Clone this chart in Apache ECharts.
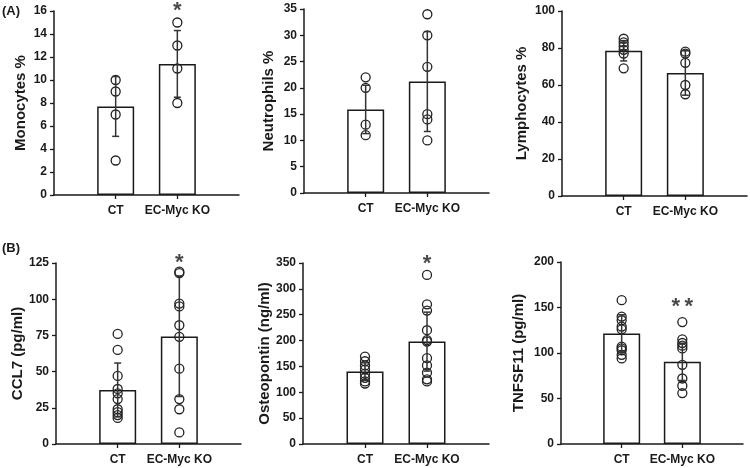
<!DOCTYPE html>
<html><head><meta charset="utf-8">
<script src="https://cdn.jsdelivr.net/npm/echarts@6/dist/echarts.min.js"></script>
<style>html,body{margin:0;padding:0;background:#fff}#c{width:750px;height:468px}</style>
</head><body><div id="c"></div>
<script>
// ---------- data ----------
const categories = ['CT', 'EC-Myc KO'];
const yTitles = ['Monocytes %', 'Neutrophils %', 'Lymphocytes %', 'CCL7 (pg/ml)', 'Osteopontin (ng/ml)', 'TNFSF11 (pg/ml)'];
const yMax = [16, 35, 100, 125, 350, 200];
const yInterval = [2, 5, 20, 25, 50, 50];

// individual points [CT, KO]
const monocytesCT = [10, 9, 7, 3];
const monocytesKO = [15, 13, 11, 8];
const neutrophilsCT = [22, 20, 13, 11];
const neutrophilsKO = [34, 30, 24, 15, 14, 10];
const lymphocytesCT = [85, 83, 81, 79, 77, 69];
const lymphocytesKO = [78, 77, 72, 60, 55];
const ccl7CT = [76, 65, 47, 38, 35, 31, 24, 22, 20, 18];
const ccl7KO = [119, 118, 97, 95, 82, 74, 52, 31, 24, 8];
const osteopontinCT = [169, 160, 152, 144, 136, 128, 121, 117];
const osteopontinKO = [327, 270, 258, 220, 201, 198, 166, 152, 138, 125, 121];
const tnfsf11CT = [158, 140, 136, 129, 126, 107, 105, 103, 98, 94];
const tnfsf11KO = [134, 115, 111, 108, 105, 87, 72, 64, 56];

// bar heights (mean) and error (SD) [CT, KO]
const monocytesMean = [7.7, 11.4], monocytesSD = [2.6, 2.9];
const neutrophilsMean = [15.9, 21.2], neutrophilsSD = [4.6, 9.5];
const lymphocytesMean = [78.5, 66.5], lymphocytesSD = [5.5, 12];
const ccl7Mean = [37.3, 74.3], ccl7SD = [18.6, 41.5];
const osteopontinMean = [140, 198], osteopontinSD = [17, 57];
const tnfsf11Mean = [121.5, 90.3], tnfsf11SD = [20.5, 20.5];

// significance marks (on KO)
const starText = ['*', '', '', '*', '*', '*\u2009*'];
const starValue = [16.4, null, null, 128.5, 357.8, 156];

const panelPoints = [[monocytesCT, monocytesKO], [neutrophilsCT, neutrophilsKO], [lymphocytesCT, lymphocytesKO],
  [ccl7CT, ccl7KO], [osteopontinCT, osteopontinKO], [tnfsf11CT, tnfsf11KO]];
const panelMean = [monocytesMean, neutrophilsMean, lymphocytesMean, ccl7Mean, osteopontinMean, tnfsf11Mean];
const panelSD = [monocytesSD, neutrophilsSD, lymphocytesSD, ccl7SD, osteopontinSD, tnfsf11SD];

// ---------- layout ----------
const gridBoxes = [
  {left: 54, top: 11, width: 185, height: 184},
  {left: 304, top: 9, width: 185, height: 184},
  {left: 562, top: 11, width: 185, height: 185},
  {left: 56, top: 263, width: 185, height: 181},
  {left: 303, top: 263, width: 186, height: 181},
  {left: 561, top: 262, width: 182, height: 182}
];
const nameGaps = [26, 28, 33, 30, 30, 35];

const FONT = '"Liberation Sans", Arial, sans-serif';
const INK = '#1a1a1a';

const xCats = [''].concat(categories, ['']);

function errRender(params, api) {
  const x = api.value(0), lo = api.value(1), hi = api.value(2);
  const pLo = api.coord([x, lo]), pHi = api.coord([x, hi]);
  const cap = 3.5;
  const style = {stroke: '#333', lineWidth: 1.5};
  return {type: 'group', children: [
    {type: 'line', shape: {x1: pHi[0], y1: pHi[1], x2: pLo[0], y2: pLo[1]}, style: style},
    {type: 'line', shape: {x1: pHi[0] - cap, y1: pHi[1], x2: pHi[0] + cap, y2: pHi[1]}, style: style},
    {type: 'line', shape: {x1: pLo[0] - cap, y1: pLo[1], x2: pLo[0] + cap, y2: pLo[1]}, style: style}
  ]};
}

const grid = [], xAxis = [], yAxis = [], series = [];
for (let i = 0; i < 6; i++) {
  grid.push(Object.assign({containLabel: false}, gridBoxes[i]));
  xAxis.push({
    type: 'category', gridIndex: i, data: xCats, boundaryGap: false,
    axisLine: {lineStyle: {color: INK, width: 1.5}},
    axisTick: {show: true, inside: false, length: 4, lineStyle: {color: INK, width: 1.3},
      interval: function (idx, val) { return val !== ''; }},
    axisLabel: {interval: 0, margin: 10, fontFamily: FONT, fontWeight: 'bold', fontSize: 12, color: INK},
    splitLine: {show: false}
  });
  yAxis.push({
    type: 'value', gridIndex: i, min: 0, max: yMax[i], interval: yInterval[i],
    name: yTitles[i], nameLocation: 'middle', nameGap: nameGaps[i], nameRotate: 90,
    nameTextStyle: {fontFamily: FONT, fontWeight: 'bold', fontSize: 15, color: INK},
    axisLine: {show: true, lineStyle: {color: INK, width: 1.5}},
    axisTick: {show: true, inside: false, length: 4, lineStyle: {color: INK, width: 1.3}},
    axisLabel: {margin: 7, fontFamily: FONT, fontWeight: 'bold', fontSize: 12, color: INK},
    splitLine: {show: false}
  });
  const m = panelMean[i], sd = panelSD[i], pts = panelPoints[i];
  series.push({
    type: 'bar', xAxisIndex: i, yAxisIndex: i, barWidth: 37, z: 2,
    itemStyle: {color: '#fff', borderColor: INK, borderWidth: 1.5},
    data: ['-', m[0], m[1], '-'], silent: true
  });
  const scatterData = [];
  pts[0].forEach(function (v) { scatterData.push([1, v]); });
  pts[1].forEach(function (v) { scatterData.push([2, v]); });
  series.push({
    type: 'scatter', xAxisIndex: i, yAxisIndex: i, symbol: 'circle', symbolSize: 9, z: 3,
    itemStyle: {color: 'rgba(255,255,255,0)', borderColor: '#222', borderWidth: 1.3, opacity: 1},
    data: scatterData, silent: true
  });
  series.push({
    type: 'custom', xAxisIndex: i, yAxisIndex: i, z: 4, renderItem: errRender, silent: true,
    data: [[1, m[0] - sd[0], m[0] + sd[0]], [2, m[1] - sd[1], m[1] + sd[1]]]
  });
  if (starText[i]) {
    series.push({
      type: 'scatter', xAxisIndex: i, yAxisIndex: i, symbolSize: 0, z: 5, clip: false, silent: true,
      data: [[2, starValue[i]]],
      label: {show: true, position: 'inside', offset: [0, 5], formatter: starText[i],
        fontFamily: FONT, fontWeight: 'bold', fontSize: 22, color: INK}
    });
  }
}

const chart = echarts.init(document.getElementById('c'), null, {renderer: 'canvas'});
chart.setOption({
  backgroundColor: '#fff',
  animation: false,
  grid: grid, xAxis: xAxis, yAxis: yAxis, series: series,
  graphic: [
    {type: 'text', left: 2, top: 5, style: {text: '(A)', font: 'bold 13px ' + FONT, fill: INK}},
    {type: 'text', left: 2, top: 242, style: {text: '(B)', font: 'bold 13px ' + FONT, fill: INK}}
  ]
});
</script>
</body></html>
